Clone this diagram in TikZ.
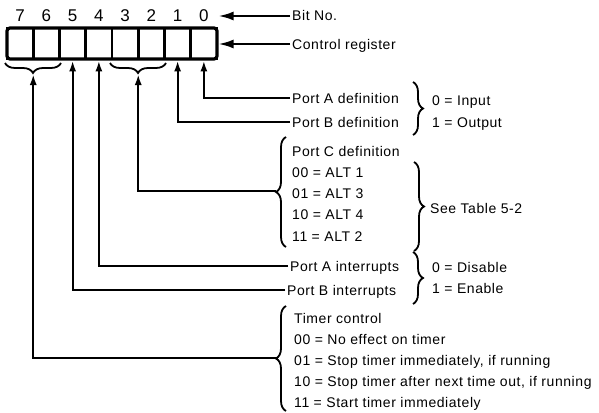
\documentclass[tikz,border=0pt]{standalone}
\usepackage{fontspec}
\setmainfont{Liberation Sans}[LetterSpace=4]
\usetikzlibrary{arrows.meta,decorations.pathreplacing}

\tikzset{
  lbl/.style={anchor=west, inner sep=2pt, text height=10pt, text depth=0pt, font=\fontsize{14}{17}\selectfont},
  digit/.style={inner sep=3pt, font=\fontsize{17}{20}\selectfont},
  cell/.style={draw, line width=2.8pt, minimum width=26.25pt, minimum height=31pt, inner sep=0pt},
  frame/.style={draw, line width=3.2pt, rounded corners=3pt, minimum width=210pt, minimum height=31pt, inner sep=0pt},
  conn/.style={line width=2.2pt, -{Latex[length=11pt,width=7pt]}},
  bigarr/.style={line width=2.2pt, -{Latex[length=15pt,width=9pt]}},
  brc/.style={line width=1.8pt, decorate, decoration={brace, amplitude=10pt}},
}

\begin{document}
\begin{tikzpicture}[x=1pt, y=-1pt]
        \useasboundingbox (0,0) rectangle (599,412);
    % register and bit numbers
        \foreach \k in {0,...,7}{
            \pgfmathtruncatemacro\bit{7-\k}
            \node[cell] (b\bit) at ({7+26.25*(\k+0.5)},43.5) {};
            \node[digit] (d\bit) at ({7+26.25*(\k+0.5)},16) {\bit};
        }
        \node[frame] (reg) at (112,43.5) {};
    % braces under the cells
        \draw[brc] (61,63) -- (5,63);
        \draw[brc] (166,63) -- (110,63);
        \coordinate (t76) at (33.25,74);
        \coordinate (t32) at (138.25,74);
    % labels
        \node[lbl] (bitno) at (290,16) {Bit No.};
        \node[lbl] (ctrl) at (290,44) {Control register};
        \node[lbl] (pad) at (290,98) {Port A definition};
        \node[lbl] (pbd) at (290,122) {Port B definition};
            \node[lbl] (inp) at (430,100) {0 = Input};
            \node[lbl] (outp) at (430,122) {1 = Output};
        \node[lbl] (pc) at (290,151) {Port C definition};
            \node[lbl] (pc0) at (290,172) {00 = ALT 1};
            \node[lbl] (pc1) at (290,193) {01 = ALT 3};
            \node[lbl] (pc2) at (290,214) {10 = ALT 4};
            \node[lbl] (pc3) at (290,236) {11 = ALT 2};
            \node[lbl] (tbl) at (428,208) {See Table 5-2};
        \node[lbl] (pai) at (288,266) {Port A interrupts};
        \node[lbl] (pbi) at (285,290) {Port B interrupts};
            \node[lbl] (dis) at (430,267) {0 = Disable};
            \node[lbl] (ena) at (430,288) {1 = Enable};
        \node[lbl] (tc) at (292,318) {Timer control};
            \node[lbl] (tc0) at (292,339) {00 = No effect on timer};
            \node[lbl] (tc1) at (292,360) {01 = Stop timer immediately, if running};
            \node[lbl] (tc2) at (292,381) {10 = Stop timer after next time out, if running};
            \node[lbl] (tc3) at (292,402) {11 = Start timer immediately};
    % braces beside the texts
        \draw[brc] (413,82) -- (413,135);
        \draw[brc] (286,247) -- (286,137);
        \draw[brc] (414,162) -- (414,251);
        \draw[brc] (413,252) -- (413,304);
        \draw[brc] (286,411) -- (286,306);
        \coordinate (pcb) at (276,191);
        \coordinate (tmb) at (276,358);
    % arrows
        \draw[bigarr] (bitno.west) -- (bitno.west -| reg.east);
        \draw[bigarr] (ctrl.west) -- (ctrl.west -| reg.east);
        \draw[conn] (pad.west) -| (b0.south);
        \draw[conn] (pbd.west) -| (b1.south);
        \draw[conn] (pcb) -| (t32);
        \draw[conn] (pai.west) -| (b4.south);
        \draw[conn] (pbi.west) -| (b5.south);
        \draw[conn] (tmb) -| (t76);
\end{tikzpicture}
\end{document}
